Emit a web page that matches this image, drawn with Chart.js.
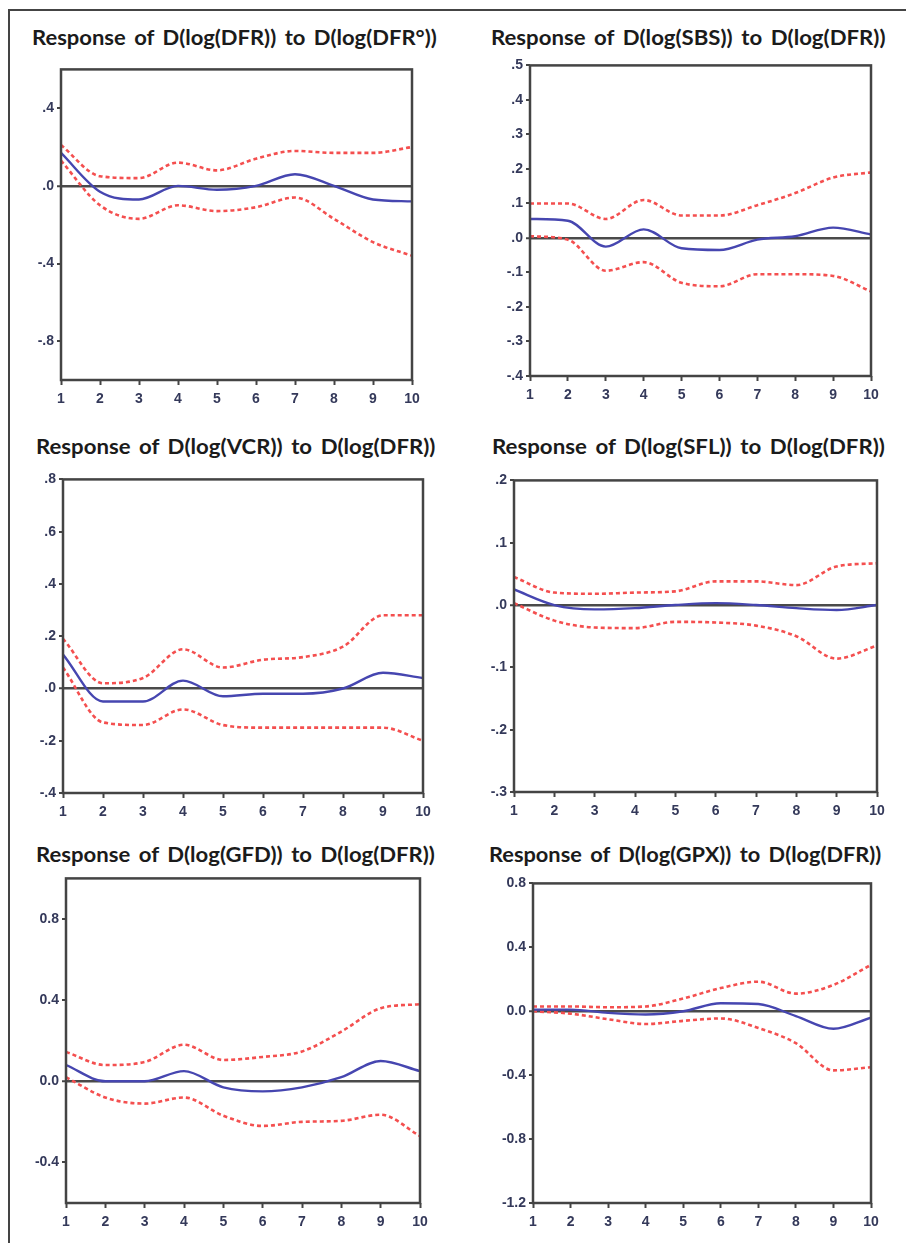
<!DOCTYPE html>
<html lang="en">
<head>
<meta charset="UTF-8">
<title>Impulse responses to D(log(DFR))</title>
<style>
  body { margin: 0; background: #fff; }
  #page { position: relative; width: 906px; height: 1243px; overflow: hidden; }
  #frame { position: absolute; left: 8px; top: 9px; right: -4px; bottom: -4px; border-left: 2px solid #444; border-top: 2px solid #444; }
  .title { position: absolute; font: bold 21px Lato, "Open Sans", sans-serif; line-height: 21px; word-spacing: 3px; white-space: nowrap; color: #1b1b1b; transform-origin: 0 0; }
  canvas { position: absolute; }
</style>
<script src="https://cdn.jsdelivr.net/npm/chart.js"></script>
</head>
<body>
<div id="page"><div id="frame"></div></div>
<script>
const periods = [1, 2, 3, 4, 5, 6, 7, 8, 9, 10];

// Response of D(log(DFR)) to D(log(DFR°))
const dfrResp  = [0.17, -0.03, -0.07, 0.00, -0.02, 0.00, 0.06, 0.00, -0.07, -0.08];
const dfrUpper = [0.21, 0.05, 0.04, 0.12, 0.08, 0.14, 0.18, 0.17, 0.17, 0.20];
const dfrLower = [0.13, -0.10, -0.17, -0.10, -0.13, -0.11, -0.06, -0.17, -0.29, -0.36];
const dfrTicks = [-0.8, -0.4, 0, 0.4];
const dfrTickLabels = ['-.8', '-.4', '.0', '.4'];

// Response of D(log(SBS)) to D(log(DFR))
const sbsResp  = [0.055, 0.05, -0.025, 0.025, -0.03, -0.035, -0.005, 0.005, 0.03, 0.01];
const sbsUpper = [0.10, 0.10, 0.055, 0.11, 0.065, 0.065, 0.095, 0.13, 0.175, 0.19];
const sbsLower = [0.005, -0.005, -0.095, -0.07, -0.13, -0.14, -0.105, -0.105, -0.11, -0.155];
const sbsTicks = [-0.4, -0.3, -0.2, -0.1, 0, 0.1, 0.2, 0.3, 0.4, 0.5];
const sbsTickLabels = ['-.4', '-.3', '-.2', '-.1', '.0', '.1', '.2', '.3', '.4', '.5'];

// Response of D(log(VCR)) to D(log(DFR))
const vcrResp  = [0.13, -0.05, -0.05, 0.03, -0.03, -0.02, -0.02, 0.00, 0.06, 0.04];
const vcrUpper = [0.19, 0.02, 0.04, 0.15, 0.08, 0.11, 0.12, 0.16, 0.28, 0.28];
const vcrLower = [0.08, -0.13, -0.14, -0.08, -0.14, -0.15, -0.15, -0.15, -0.15, -0.20];
const vcrTicks = [-0.4, -0.2, 0, 0.2, 0.4, 0.6, 0.8];
const vcrTickLabels = ['-.4', '-.2', '.0', '.2', '.4', '.6', '.8'];

// Response of D(log(SFL)) to D(log(DFR))
const sflResp  = [0.025, 0.00, -0.007, -0.005, 0.00, 0.003, 0.00, -0.005, -0.008, 0.00];
const sflUpper = [0.045, 0.02, 0.018, 0.02, 0.022, 0.038, 0.038, 0.032, 0.062, 0.067];
const sflLower = [0.003, -0.025, -0.036, -0.037, -0.027, -0.028, -0.033, -0.05, -0.086, -0.065];
const sflTicks = [-0.3, -0.2, -0.1, 0, 0.1, 0.2];
const sflTickLabels = ['-.3', '-.2', '-.1', '.0', '.1', '.2'];

// Response of D(log(GFD)) to D(log(DFR))
const gfdResp  = [0.08, 0.00, 0.00, 0.05, -0.03, -0.05, -0.03, 0.02, 0.10, 0.05];
const gfdUpper = [0.145, 0.08, 0.095, 0.18, 0.105, 0.12, 0.147, 0.245, 0.36, 0.38];
const gfdLower = [0.02, -0.08, -0.11, -0.08, -0.17, -0.22, -0.20, -0.195, -0.165, -0.27];
const gfdTicks = [-0.4, 0, 0.4, 0.8];
const gfdTickLabels = ['-0.4', '0.0', '0.4', '0.8'];

// Response of D(log(GPX)) to D(log(DFR))
const gpxResp  = [0.01, 0.01, -0.01, -0.02, 0.00, 0.05, 0.045, -0.03, -0.11, -0.04];
const gpxUpper = [0.03, 0.03, 0.025, 0.03, 0.08, 0.145, 0.185, 0.11, 0.165, 0.29];
const gpxLower = [0.00, -0.015, -0.05, -0.08, -0.06, -0.045, -0.105, -0.20, -0.37, -0.35];
const gpxTicks = [-1.2, -0.8, -0.4, 0, 0.4, 0.8];
const gpxTickLabels = ['-1.2', '-0.8', '-0.4', '0.0', '0.4', '0.8'];

const panels = [
  { title: 'Response of D(log(DFR)) to D(log(DFR°))', resp: dfrResp, upper: dfrUpper, lower: dfrLower,
    ticks: dfrTicks, labels: dfrTickLabels, min: -1.0, max: 0.6,
    box: { l: 61, t: 68, r: 412, b: 380 }, tx: 32, tw: 405, ty: 45 },
  { title: 'Response of D(log(SBS)) to D(log(DFR))', resp: sbsResp, upper: sbsUpper, lower: sbsLower,
    ticks: sbsTicks, labels: sbsTickLabels, min: -0.4, max: 0.5,
    box: { l: 530, t: 64, r: 871, b: 376 }, tx: 491, tw: 395, ty: 45 },
  { title: 'Response of D(log(VCR)) to D(log(DFR))', resp: vcrResp, upper: vcrUpper, lower: vcrLower,
    ticks: vcrTicks, labels: vcrTickLabels, min: -0.4, max: 0.8,
    box: { l: 63, t: 478, r: 423, b: 793 }, tx: 36, tw: 399, ty: 454 },
  { title: 'Response of D(log(SFL)) to D(log(DFR))', resp: sflResp, upper: sflUpper, lower: sflLower,
    ticks: sflTicks, labels: sflTickLabels, min: -0.3, max: 0.2,
    box: { l: 514, t: 479, r: 877, b: 792 }, tx: 492, tw: 393, ty: 454 },
  { title: 'Response of D(log(GFD)) to D(log(DFR))', resp: gfdResp, upper: gfdUpper, lower: gfdLower,
    ticks: gfdTicks, labels: gfdTickLabels, min: -0.6, max: 1.0,
    box: { l: 66, t: 877, r: 420, b: 1203 }, tx: 36, tw: 399, ty: 862 },
  { title: 'Response of D(log(GPX)) to D(log(DFR))', resp: gpxResp, upper: gpxUpper, lower: gpxLower,
    ticks: gpxTicks, labels: gpxTickLabels, min: -1.2, max: 0.8,
    box: { l: 533, t: 882, r: 871, b: 1203 }, tx: 489, tw: 392, ty: 862 }
];

// plot frame drawn over the lines
const framePlugin = {
  id: 'frame',
  afterDatasetsDraw(chart) {
    const a = chart.chartArea, c = chart.ctx;
    c.save();
    c.strokeStyle = '#444';
    c.lineWidth = 2.5;
    c.strokeRect(a.left, a.top, a.right - a.left, a.bottom - a.top);
    c.restore();
  }
};

const page = document.getElementById('page');
const YW = 55, XH = 36, PADT = 10, PADR = 16;
const tickFont = { family: '"Liberation Sans Narrow", "Liberation Sans", Arial, sans-serif', size: 14, weight: 'bold' };

panels.forEach(p => {
  // title
  const t = document.createElement('div');
  t.className = 'title';
  t.textContent = p.title;
  page.appendChild(t);
  const w = t.offsetWidth;
  t.style.left = p.tx + 'px';
  t.style.top = (p.ty - 18.6) + 'px';
  t.style.transform = 'scaleX(' + (p.tw / w) + ')';

  // chart canvas
  const cv = document.createElement('canvas');
  const cw = p.box.r - p.box.l + YW + PADR;
  const ch = p.box.b - p.box.t + PADT + XH;
  cv.width = cw; cv.height = ch;
  cv.style.width = cw + 'px'; cv.style.height = ch + 'px';
  cv.style.left = (p.box.l - YW) + 'px';
  cv.style.top = (p.box.t - PADT) + 'px';
  page.appendChild(cv);

  const pts = arr => arr.map((v, i) => ({ x: periods[i], y: v }));
  const band = (arr) => ({
    data: pts(arr), borderColor: '#f44f4f', borderWidth: 2.6, borderDash: [4, 3],
    pointRadius: 0, cubicInterpolationMode: 'monotone', fill: false
  });

  new Chart(cv, {
    type: 'line',
    data: {
      datasets: [
        { data: pts(p.resp), borderColor: '#4646b0', borderWidth: 2.4, pointRadius: 0, cubicInterpolationMode: 'monotone', fill: false },
        band(p.upper),
        band(p.lower)
      ]
    },
    options: {
      responsive: false,
      animation: false,
      events: [],
      layout: { padding: { left: 0, top: PADT, right: PADR, bottom: 0 } },
      plugins: { legend: { display: false }, tooltip: { enabled: false }, title: { display: false } },
      scales: {
        x: {
          type: 'linear', min: 1, max: 10,
          afterBuildTicks: s => { s.ticks = periods.map(v => ({ value: v })); },
          afterFit: s => { s.height = XH; },
          ticks: { font: tickFont, color: '#34395a', padding: 6, maxRotation: 0, autoSkip: false },
          grid: { drawOnChartArea: false, tickLength: 5, tickColor: '#444', tickWidth: 2 },
          border: { display: false }
        },
        y: {
          type: 'linear', min: p.min, max: p.max,
          afterBuildTicks: s => { s.ticks = p.ticks.map(v => ({ value: v })); },
          afterFit: s => { s.width = YW; },
          ticks: {
            font: tickFont, color: '#34395a', padding: 3, autoSkip: false,
            callback: (v) => p.labels[p.ticks.findIndex(t => Math.abs(t - v) < 1e-9)]
          },
          grid: {
            drawOnChartArea: true, tickLength: 4, tickColor: '#444', tickWidth: 2,
            color: c => (c.tick && Math.abs(c.tick.value) < 1e-9) ? '#4a4a4a' : 'rgba(0,0,0,0)',
            lineWidth: c => (c.tick && Math.abs(c.tick.value) < 1e-9) ? 2.5 : 0
          },
          border: { display: false }
        }
      }
    },
    plugins: [framePlugin]
  });
});
</script>
</body>
</html>
